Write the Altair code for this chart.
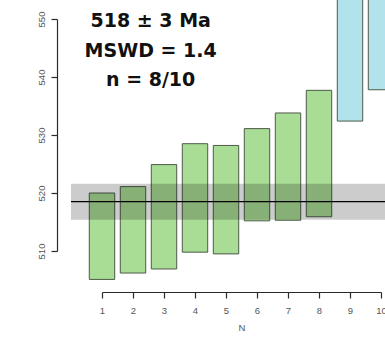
import altair as alt
import pandas as pd

# Data
spot = list(range(1, 11))
age_lo = [505.1, 506.2, 506.9, 509.8, 509.5, 515.2, 515.3, 515.9, 532.4, 537.8]
age_hi = [520.0, 521.1, 524.9, 528.5, 528.2, 531.1, 533.8, 537.7, 562.0, 570.0]
used = ["yes"] * 8 + ["no"] * 2
mean_age = 518.5
mean_err = 3.1
labels = ["518 \u00b1 3 Ma", "MSWD = 1.4", "n = 8/10"]
label_y = [548.7, 543.4, 538.4]
label_x = 2.57
half_w = 0.41
y_ticks = [510, 520, 530, 540, 550]

bars = pd.DataFrame({
    "n": spot,
    "x1": [s - half_w for s in spot],
    "x2": [s + half_w for s in spot],
    "lo": age_lo,
    "hi": age_hi,
    "used": used,
})
band = pd.DataFrame({"x1": [0], "x2": [11], "lo": [mean_age - mean_err],
                     "hi": [mean_age + mean_err], "m": [mean_age]})
txt = pd.DataFrame({"t": labels, "y": label_y, "x": [label_x] * 3})

xs = alt.Scale(domain=[1, 10], nice=False, zero=False)
ys = alt.Scale(domain=[510, 550], nice=False, zero=False)

lab_font = "Liberation Sans"
axis_col = "#2a2a2a"
lab_col = "#555555"

x_axis = alt.Axis(
    values=spot, title="N", orient="bottom", offset=41, tickSize=6,
    domain=True, domainWidth=1.2, tickWidth=1.2,
    domainColor=axis_col, tickColor=axis_col, labelColor=lab_col, labelFontSize=9.5,
    labelFont=lab_font, labelPadding=7, labelOverlap=False,
    titleFont=lab_font, titleFontSize=9.5,
    titleFontWeight="normal", titleColor=lab_col, titlePadding=8, grid=False,
    labelFlush=False)
y_axis = alt.Axis(
    values=y_ticks, title=None, orient="left", offset=45,
    domain=True, domainWidth=1.2, tickWidth=1.2,
    tickSize=6, domainColor=axis_col, tickColor=axis_col, labelColor=lab_col,
    labelFontSize=9.5, labelFont=lab_font, labelAngle=270, labelAlign="center",
    labelBaseline="bottom", labelPadding=5, labelOverlap=False, grid=False,
    labelFlush=False)

rects = alt.Chart(bars).mark_rect(stroke="#4d5a4a", strokeWidth=1).encode(
    x=alt.X("x1:Q", scale=xs, axis=x_axis),
    x2="x2:Q",
    y=alt.Y("lo:Q", scale=ys, axis=y_axis),
    y2="hi:Q",
    fill=alt.Fill("used:N", scale=alt.Scale(domain=["yes", "no"],
                                            range=["#a9dc95", "#b2e3ec"]),
                  legend=None),
)

band_rect = alt.Chart(band).mark_rect(color="#000000", opacity=0.2).encode(
    x=alt.X("x1:Q", scale=xs, axis=x_axis), x2="x2:Q",
    y=alt.Y("lo:Q", scale=ys, axis=y_axis), y2="hi:Q")

mean_rule = alt.Chart(band).mark_rule(color="#000000", strokeWidth=1.2).encode(
    x=alt.X("x1:Q", scale=xs, axis=x_axis), x2="x2:Q",
    y=alt.Y("m:Q", scale=ys, axis=y_axis))

text = alt.Chart(txt).mark_text(font="DejaVu Sans", fontWeight="bold", fontSize=19,
                                align="center", baseline="alphabetic",
                                color="#111").encode(
    x=alt.X("x:Q", scale=xs, axis=x_axis), y=alt.Y("y:Q", scale=ys, axis=y_axis),
    text="t:N")

chart = alt.layer(rects, band_rect, mean_rule, text).properties(
    width=279, height=232,
    autosize=alt.AutoSizeParams(type="none"),
    padding={"left": 102, "top": 19, "right": 4, "bottom": 87},
).configure_view(stroke=None)

chart.save("out.html", embed_options={"renderer": "svg", "actions": False})
